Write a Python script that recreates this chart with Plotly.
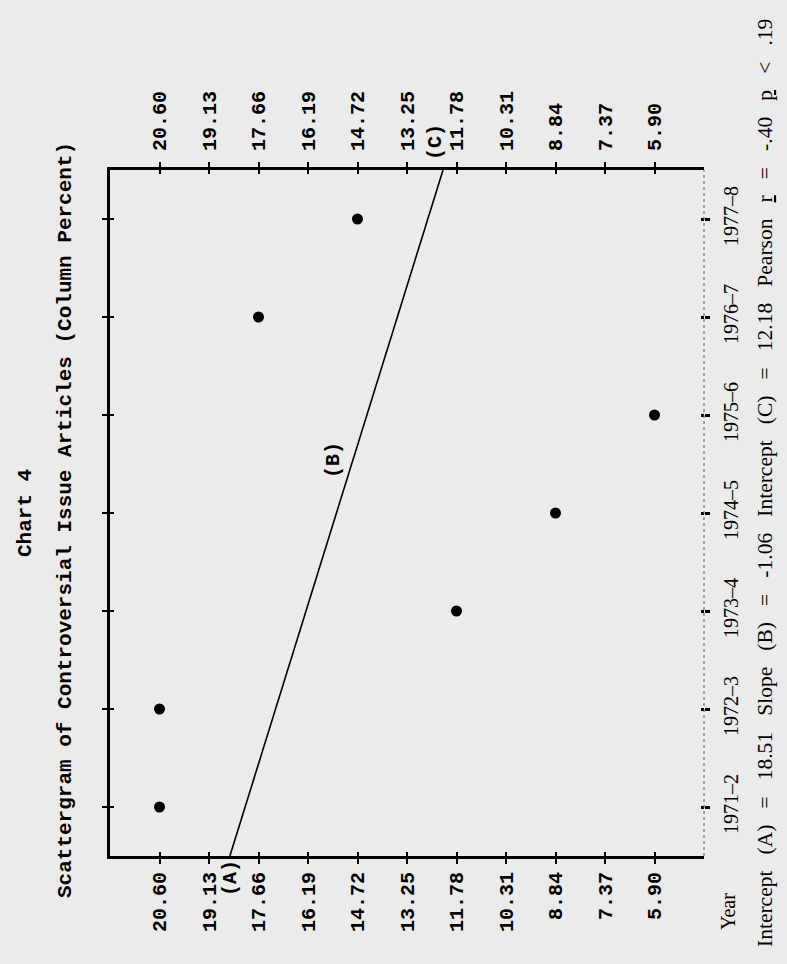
import plotly.graph_objects as go

# ---- data -------------------------------------------------------------
years = ["1971–2", "1972–3", "1973–4", "1974–5", "1975–6", "1976–7", "1977–8"]
pct = [20.60, 20.60, 11.78, 8.84, 5.90, 17.66, 14.72]

pct_ticks = [20.60, 19.13, 17.66, 16.19, 14.72, 13.25, 11.78, 10.31, 8.84, 7.37, 5.90]
pct_labels = ["20.60", "19.13", "17.66", "16.19", "14.72", "13.25",
              "11.78", "10.31", "8.84", "7.37", "5.90"]

intercept_a = 18.51
slope_b = -1.06
intercept_c = 12.18
pearson_r = "-.40"
p_value = ".19"

# ---- geometry ---------------------------------------------------------
W, H = 787, 964
step = pct_ticks[0] - pct_ticks[1]
x_range = [pct_ticks[0] + step, pct_ticks[-1] - step]   # reversed percent axis
year_idx = list(range(len(years)))
y_range = [-0.5, len(years) - 0.5]

X_DOM = [110 / W, 704 / W]
Y_DOM = [1 - 856 / H, 1 - 170 / H]

MONO = "Liberation Mono"
SERIF = "Liberation Serif"
INK = "black"
BG = "#ebebeb"

fig = go.Figure()

# observations
fig.add_trace(go.Scatter(
    x=pct, y=year_idx, mode="markers",
    marker=dict(size=11, color=INK), showlegend=False, hoverinfo="skip",
))

# regression line from intercept (A) to intercept (C)
fig.add_trace(go.Scatter(
    x=[intercept_a, intercept_c], y=y_range, mode="lines",
    line=dict(color=INK, width=1.6), showlegend=False, hoverinfo="skip",
))

# empty traces so every overlay axis gets drawn
for xa, ya in [("x2", "y"), ("x3", "y"), ("x", "y2"), ("x", "y3"), ("x", "y4")]:
    fig.add_trace(go.Scatter(x=[], y=[], xaxis=xa, yaxis=ya, showlegend=False))

common = dict(showgrid=False, zeroline=False, automargin=False, fixedrange=True)
mono_font = dict(family=MONO, size=20, color=INK, weight="bold")

fig.update_layout(
    width=W, height=H,
    margin=dict(l=0, r=0, t=0, b=0),
    paper_bgcolor=BG, plot_bgcolor=BG,
    showlegend=False,
    xaxis=dict(
        **common, domain=X_DOM, range=x_range, anchor="y", side="bottom",
        tickmode="array", tickvals=pct_ticks, ticktext=pct_labels,
        ticks="outside", ticklen=5, tickwidth=2, tickcolor=INK,
        showline=True, linecolor=INK, linewidth=3, mirror="ticks",
        tickangle=-90, tickfont=mono_font,
    ),
    xaxis2=dict(
        **common, overlaying="x", anchor="y", side="top", range=x_range,
        tickmode="array", tickvals=pct_ticks, ticktext=pct_labels,
        ticks="", showline=False, ticklabelstandoff=18,
        tickangle=-90, tickfont=mono_font,
    ),
    xaxis3=dict(
        **common, overlaying="x", anchor="y", side="bottom", range=x_range,
        tickmode="array", tickvals=pct_ticks,
        ticks="inside", ticklen=4, tickwidth=2, tickcolor=INK,
        showline=True, linecolor=INK, linewidth=3, mirror="ticks",
        showticklabels=False,
    ),
    yaxis=dict(
        **common, domain=Y_DOM, range=y_range, anchor="x", side="left",
        tickmode="array", tickvals=year_idx,
        ticks="outside", ticklen=5, tickwidth=2, tickcolor=INK,
        showline=True, linecolor=INK, linewidth=3, showticklabels=False,
    ),
    yaxis2=dict(
        **common, overlaying="y", anchor="x", side="left", range=y_range,
        tickmode="array", tickvals=year_idx,
        ticks="inside", ticklen=4, tickwidth=2, tickcolor=INK,
        showline=False, showticklabels=False,
    ),
    yaxis3=dict(
        **common, overlaying="y", anchor="x", side="right", range=y_range,
        tickmode="array", tickvals=year_idx, ticktext=years,
        ticks="outside", ticklen=5, tickwidth=3, tickcolor=INK,
        showline=False, tickangle=-90, ticklabelstandoff=4,
        tickfont=dict(family=SERIF, size=20, color=INK),
    ),
    yaxis4=dict(
        **common, overlaying="y", anchor="x", side="right", range=y_range,
        tickmode="array", tickvals=year_idx,
        ticks="inside", ticklen=3, tickwidth=3, tickcolor=INK,
        showline=False, showticklabels=False,
    ),
)

# thin dashed right-hand frame edge
fig.add_shape(type="line", xref="x domain", yref="y domain",
              x0=1, x1=1, y0=0, y1=1,
              line=dict(color="#555555", width=1, dash="3px,3px"))


def note(text, x, y, xref="paper", yref="paper", family=MONO, size=20,
         weight="bold", **kw):
    fig.add_annotation(text=text, x=x, y=y, xref=xref, yref=yref,
                       showarrow=False, textangle=-90,
                       xanchor="center", yanchor="middle",
                       font=dict(family=family, size=size, color=INK, weight=weight),
                       **kw)


note("Chart 4", 25 / W, 1 - 513 / H, size=21)
note("Scattergram of Controversial Issue Articles (Column Percent)",
     65 / W, 1 - 520 / H, size=21)
note("%", x_range[0], 1 - 887 / H)
note("Year", 728 / W, 1 - 912 / H, family=SERIF, size=20, weight="normal")
note("(A)", intercept_a, 1 - 878 / H, xref="x")
note("(C)", intercept_c, 1 - 142 / H, xref="x", xshift=-8)

# slope label beside the middle of the fitted line
b_y = 3.54
b_x = intercept_a + (b_y - y_range[0]) / (y_range[1] - y_range[0]) * (intercept_c - intercept_a)
note("(B)", b_x, b_y, xref="x", yref="y", xshift=-20)

sp = "\u00a0" * 3
gap = "\u00a0" * 3
eq = "\u00a0\u00a0\u00a0=\u00a0\u00a0\u00a0"
footer = (f"Intercept{sp}(A){eq}{intercept_a:.2f}{gap}Slope{sp}(B){eq}{slope_b:.2f}{gap}"
          f"Intercept{sp}(C){eq}{intercept_c:.2f}{gap}Pearson{sp}<u>r</u>{eq}{pearson_r}{sp}"
          f"<u>p</u>{sp}<{sp}{p_value}")
note(footer, 765 / W, 1 - 483 / H, family=SERIF, size=21.5, weight="normal")

fig.write_html("out.html")
